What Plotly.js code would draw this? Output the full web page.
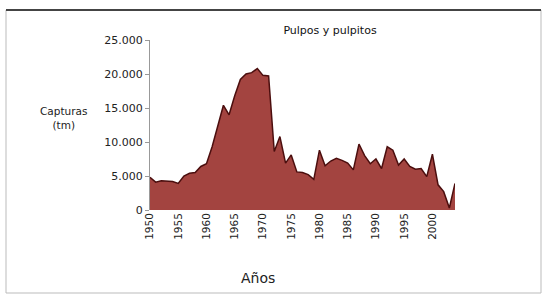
<!DOCTYPE html>
<html>
<head>
<meta charset="utf-8">
<script src="https://cdn.plot.ly/plotly-3.0.1.min.js"></script>
<style>html,body{margin:0;padding:0;background:#fff;}#chart{width:542px;height:295px;}</style>
</head>
<body>
<div id="chart"></div>
<script>
const years = [1950,1951,1952,1953,1954,1955,1956,1957,1958,1959,
               1960,1961,1962,1963,1964,1965,1966,1967,1968,1969,
               1970,1971,1972,1973,1974,1975,1976,1977,1978,1979,
               1980,1981,1982,1983,1984,1985,1986,1987,1988,1989,
               1990,1991,1992,1993,1994,1995,1996,1997,1998,1999,
               2000,2001,2002,2003,2004];
const capturas = [4800,4100,4300,4300,4200,3900,5000,5400,5500,6400,
                  6800,9300,12400,15400,14000,16800,19200,20000,20200,20800,
                  19800,19700,8600,10800,6900,8100,5600,5500,5200,4500,
                  8800,6500,7200,7600,7300,6900,5900,9700,8000,6800,
                  7500,6100,9300,8800,6600,7500,6400,6000,6100,4900,
                  8200,3700,2700,300,3900];
const xTicks = [1950,1955,1960,1965,1970,1975,1980,1985,1990,1995,2000];
const yTicks = [0,5000,10000,15000,20000,25000];
const chartTitle = 'Pulpos y pulpitos';
const yTitle = 'Capturas<br>(tm)';
const xTitle = 'Años';

const font = 'DejaVu Sans, Verdana, sans-serif';

Plotly.newPlot('chart', [{
  x: years,
  y: capturas,
  type: 'scatter',
  mode: 'lines',
  fill: 'tozeroy',
  fillcolor: 'rgb(163,68,64)',
  line: {color: 'rgb(75,14,14)', width: 1.5}
}], {
  width: 542, height: 295,
  margin: {l: 150, r: 87, t: 40, b: 85},
  paper_bgcolor: '#fff', plot_bgcolor: '#fff',
  separators: ',.',
  showlegend: false,
  font: {family: font, color: '#222', size: 11},
  title: {text: chartTitle, x: 330/542, xanchor: 'center', y: 1 - 30/295, yanchor: 'middle',
          font: {family: font, size: 11, color: '#111'}},
  xaxis: {
    range: [1950, 2004], tickvals: xTicks, ticktext: xTicks.map(String),
    tickangle: -90, showgrid: false, zeroline: false, showline: false,
    ticks: '', tickfont: {size: 10.5, color: '#222'}
  },
  yaxis: {
    range: [0, 25000], tickvals: yTicks, tickformat: ',d',
    showgrid: false, zeroline: false, showline: true, linecolor: '#999', linewidth: 1,
    ticks: 'outside', ticklen: 4, tickcolor: '#999', tickfont: {size: 11, color: '#222'}
  },
  annotations: [
    {text: yTitle, xref: 'paper', yref: 'paper', x: (63-150)/305, y: (210-118)/170,
     xanchor: 'center', yanchor: 'middle', showarrow: false, align: 'center',
     font: {family: font, size: 10.5, color: '#222'}},
    {text: xTitle, xref: 'paper', yref: 'paper', x: (258-150)/305, y: (210-278)/170,
     xanchor: 'center', yanchor: 'middle', showarrow: false,
     font: {family: font, size: 14, color: '#222'}}
  ],
  shapes: [
    {type: 'rect', xref: 'paper', yref: 'paper', x0: (6-150)/305, x1: (541-150)/305,
     y0: (210-293)/170, y1: (210-10)/170, line: {color: '#bbb', width: 1}},
    {type: 'line', xref: 'paper', yref: 'paper', x0: (6-150)/305, x1: (541-150)/305,
     y0: (210-10)/170, y1: (210-10)/170, line: {color: '#444', width: 2}}
  ]
}, {displayModeBar: false, staticPlot: true});
</script>
</body>
</html>
